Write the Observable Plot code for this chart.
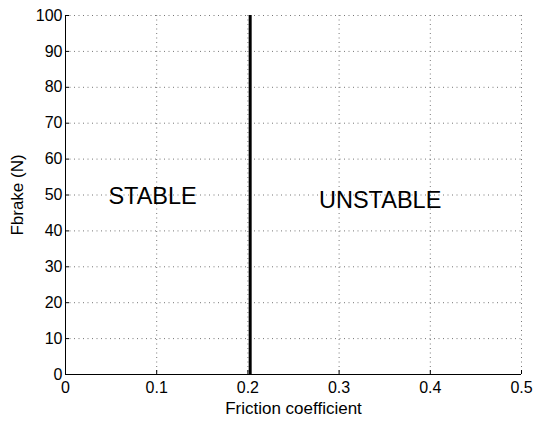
<!DOCTYPE html>
<html><head><meta charset="utf-8">
<script src="https://cdn.jsdelivr.net/npm/d3@7"></script>
<script src="https://cdn.jsdelivr.net/npm/@observablehq/plot@0.6"></script>
<style>body{margin:0;background:#fff;} svg{font-family:"Liberation Sans",Arial,sans-serif;}</style>
</head><body><div id="chart"></div>
<script>
const xTicks = [0, 0.1, 0.2, 0.3, 0.4, 0.5];
const yTicks = [0, 10, 20, 30, 40, 50, 60, 70, 80, 90, 100];
const boundaryX = [0.2025];
const regionLabels = ["STABLE", "UNSTABLE"];
const labelX = [0.0955, 0.345];
const labelY = [49.6, 48.5];
const labels = regionLabels.map((t, i) => ({t, x: labelX[i], y: labelY[i]}));

const chart = Plot.plot({
  width: 534, height: 421,
  marginLeft: 65, marginRight: 13, marginTop: 15, marginBottom: 47,
  style: {fontFamily: '"Liberation Sans", Arial, sans-serif', fontSize: "16px", background: "#fff"},
  x: {domain: [0, 0.5]},
  y: {domain: [0, 100]},
  marks: [
    Plot.gridX(xTicks, {stroke: "#777", strokeOpacity: 1, strokeDasharray: "1,3.5"}),
    Plot.gridY(yTicks, {stroke: "#777", strokeOpacity: 1, strokeDasharray: "1,3.5"}),
    Plot.axisX(xTicks, {label: null, tickSize: -4, tickPadding: 11, tickFormat: d => String(d), fontSize: 16, fill: "#000"}),
    Plot.axisY(yTicks, {label: null, tickSize: -4, tickPadding: 7, fontSize: 16, fill: "#000"}),
    Plot.axisX({label: "Friction coefficient", ticks: [], tickSize: 0, labelAnchor: "center", labelArrow: "none", labelOffset: 39, fontSize: 17, fill: "#000"}),
    Plot.axisY({label: "Fbrake (N)", ticks: [], tickSize: 0, labelAnchor: "center", labelArrow: "none", labelOffset: 55, fontSize: 17, fill: "#000"}),
    Plot.ruleX([0], {stroke: "#000"}),
    Plot.ruleY([0], {stroke: "#000"}),
    Plot.ruleX(boundaryX, {stroke: "#000", strokeWidth: 3}),
    Plot.text(labels, {x: "x", y: "y", text: "t", fontSize: 23.5, fill: "#000"})
  ]
});
document.getElementById("chart").appendChild(chart);
</script></body></html>
